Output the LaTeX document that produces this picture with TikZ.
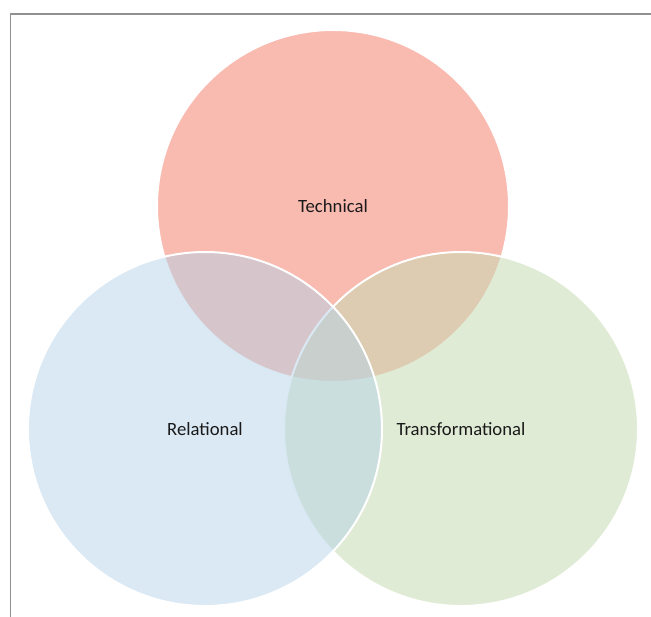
\documentclass[tikz,border=0pt]{standalone}
\usepackage{fontspec}
\setmainfont{Carlito}
\definecolor{techred}{RGB}{249,186,176}
\definecolor{transgreen}{RGB}{199,219,179}
\definecolor{relblue}{RGB}{181,211,233}
\definecolor{framegray}{RGB}{145,145,145}
\definecolor{labeltext}{RGB}{26,26,26}
\tikzset{
  venn/.style={circle, inner sep=0pt, outer sep=0pt, draw=white, line width=2pt,
    text=labeltext, text opacity=1, font=\fontsize{18.7}{22}\selectfont},
  framerule/.style={draw=framegray, line width=1.3pt}
}
\begin{document}
\begin{tikzpicture}[x=1pt, y=-1pt]
  \useasboundingbox (0,0) rectangle (651,617);
  % frame lines along the top and left edges
  \coordinate (ftl) at (10.5,14);
  \coordinate (ftr) at (651,14);
  \coordinate (fbl) at (10.5,617);
  \draw[framerule] (ftr) -- (ftl) -- (fbl);
  % the three overlapping sets
  \node[venn, minimum size=352pt, fill=techred] (technical) at (333,206) {Technical};
  \node[venn, minimum size=354pt, fill=transgreen, fill opacity=0.55] (transformational) at (461,429) {Transformational};
  \node[venn, minimum size=354pt, fill=relblue, fill opacity=0.5] (relational) at (205,429) {Relational};
\end{tikzpicture}
\end{document}
